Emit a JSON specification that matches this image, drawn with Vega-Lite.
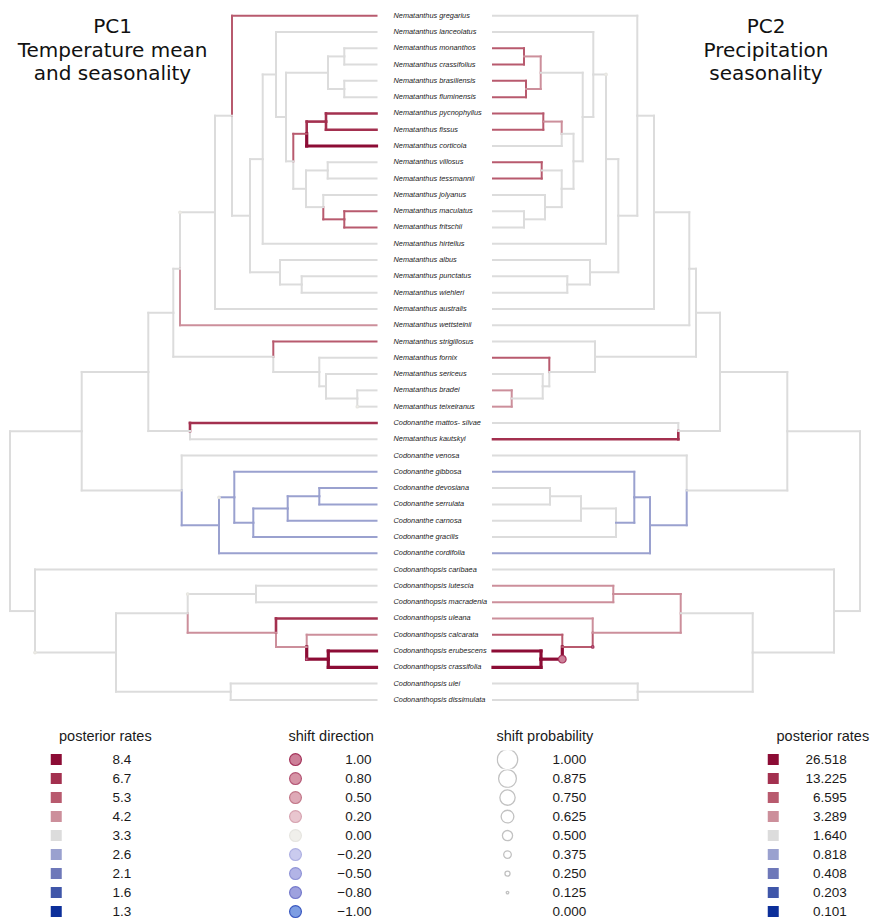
{
  "$schema": "https://vega.github.io/schema/vega-lite/v6.json",
  "width": 871,
  "height": 920,
  "padding": 0,
  "autosize": {"type": "none"},
  "background": "white",
  "config": {
    "view": {"stroke": null},
    "legend": {
      "orient": "none",
      "padding": 0,
      "rowPadding": 0,
      "clipHeight": 18.2,
      "titlePadding": 6,
      "titleFont": "Liberation Sans",
      "titleFontSize": 14.5,
      "titleFontWeight": "normal",
      "titleColor": "#1a1a1a",
      "labelFont": "Liberation Sans",
      "labelFontSize": 13.5,
      "labelColor": "#1a1a1a"
    }
  },
  "datasets": {
    "branches": [
      {"tree":"PC1","px":10,"py":32.026,"cx":81.7,"cy":26.504,"rate":"3.3"},
      {"tree":"PC1","px":10,"py":32.026,"cx":35,"cy":37.547,"rate":"3.3"},
      {"tree":"PC1","px":81.7,"py":26.504,"cx":148.3,"cy":22.868,"rate":"3.3"},
      {"tree":"PC1","px":81.7,"py":26.504,"cx":181.7,"cy":30.14,"rate":"3.3"},
      {"tree":"PC1","px":148.3,"py":22.868,"cx":173.3,"cy":19.236,"rate":"3.3"},
      {"tree":"PC1","px":148.3,"py":22.868,"cx":190,"cy":26.5,"rate":"3.3"},
      {"tree":"PC1","px":173.3,"py":19.236,"cx":180,"cy":16.535,"rate":"3.3"},
      {"tree":"PC1","px":173.3,"py":19.236,"cx":273.3,"cy":21.938,"rate":"3.3"},
      {"tree":"PC1","px":180,"py":16.535,"cx":215,"cy":13.069,"rate":"3.3"},
      {"tree":"PC1","px":215,"py":13.069,"cx":232,"cy":7.139,"rate":"3.3"},
      {"tree":"PC1","px":215,"py":13.069,"cx":376.5,"cy":19,"rate":"3.3"},
      {"tree":"PC1","px":232,"py":7.139,"cx":250,"cy":13.277,"rate":"3.3"},
      {"tree":"PC1","px":250,"py":13.277,"cx":262.7,"cy":9.805,"rate":"3.3"},
      {"tree":"PC1","px":250,"py":13.277,"cx":280,"cy":16.75,"rate":"3.3"},
      {"tree":"PC1","px":262.7,"py":9.805,"cx":276,"cy":4.609,"rate":"3.3"},
      {"tree":"PC1","px":262.7,"py":9.805,"cx":376.5,"cy":15,"rate":"3.3"},
      {"tree":"PC1","px":276,"py":4.609,"cx":376.5,"cy":2,"rate":"3.3"},
      {"tree":"PC1","px":276,"py":4.609,"cx":286,"cy":7.219,"rate":"3.3"},
      {"tree":"PC1","px":286,"py":7.219,"cx":328,"cy":4.5,"rate":"3.3"},
      {"tree":"PC1","px":286,"py":7.219,"cx":293.3,"cy":9.938,"rate":"3.3"},
      {"tree":"PC1","px":328,"py":4.5,"cx":344.3,"cy":3.5,"rate":"3.3"},
      {"tree":"PC1","px":328,"py":4.5,"cx":344.3,"cy":5.5,"rate":"3.3"},
      {"tree":"PC1","px":344.3,"py":3.5,"cx":376.5,"cy":3,"rate":"3.3"},
      {"tree":"PC1","px":344.3,"py":3.5,"cx":376.5,"cy":4,"rate":"3.3"},
      {"tree":"PC1","px":344.3,"py":5.5,"cx":376.5,"cy":5,"rate":"3.3"},
      {"tree":"PC1","px":344.3,"py":5.5,"cx":376.5,"cy":6,"rate":"3.3"},
      {"tree":"PC1","px":293.3,"py":9.938,"cx":306,"cy":11.625,"rate":"3.3"},
      {"tree":"PC1","px":306,"py":11.625,"cx":327.7,"cy":10.5,"rate":"3.3"},
      {"tree":"PC1","px":306,"py":11.625,"cx":323.3,"cy":12.75,"rate":"3.3"},
      {"tree":"PC1","px":327.7,"py":10.5,"cx":376.5,"cy":10,"rate":"3.3"},
      {"tree":"PC1","px":327.7,"py":10.5,"cx":376.5,"cy":11,"rate":"3.3"},
      {"tree":"PC1","px":323.3,"py":12.75,"cx":376.5,"cy":12,"rate":"3.3"},
      {"tree":"PC1","px":280,"py":16.75,"cx":376.5,"cy":16,"rate":"3.3"},
      {"tree":"PC1","px":280,"py":16.75,"cx":301.7,"cy":17.5,"rate":"3.3"},
      {"tree":"PC1","px":301.7,"py":17.5,"cx":376.5,"cy":17,"rate":"3.3"},
      {"tree":"PC1","px":301.7,"py":17.5,"cx":376.5,"cy":18,"rate":"3.3"},
      {"tree":"PC1","px":273.3,"py":21.938,"cx":319.3,"cy":22.875,"rate":"3.3"},
      {"tree":"PC1","px":319.3,"py":22.875,"cx":376.5,"cy":22,"rate":"3.3"},
      {"tree":"PC1","px":319.3,"py":22.875,"cx":326,"cy":23.75,"rate":"3.3"},
      {"tree":"PC1","px":326,"py":23.75,"cx":376.5,"cy":23,"rate":"3.3"},
      {"tree":"PC1","px":326,"py":23.75,"cx":357.3,"cy":24.5,"rate":"3.3"},
      {"tree":"PC1","px":357.3,"py":24.5,"cx":376.5,"cy":24,"rate":"3.3"},
      {"tree":"PC1","px":357.3,"py":24.5,"cx":376.5,"cy":25,"rate":"3.3"},
      {"tree":"PC1","px":190,"py":26.5,"cx":376.5,"cy":27,"rate":"3.3"},
      {"tree":"PC1","px":181.7,"py":30.14,"cx":376.5,"cy":28,"rate":"3.3"},
      {"tree":"PC1","px":35,"py":37.547,"cx":376.5,"cy":35,"rate":"3.3"},
      {"tree":"PC1","px":35,"py":37.547,"cx":116,"cy":40.094,"rate":"3.3"},
      {"tree":"PC1","px":116,"py":40.094,"cx":187.7,"cy":37.688,"rate":"3.3"},
      {"tree":"PC1","px":116,"py":40.094,"cx":230.7,"cy":42.5,"rate":"3.3"},
      {"tree":"PC1","px":230.7,"py":42.5,"cx":376.5,"cy":42,"rate":"3.3"},
      {"tree":"PC1","px":230.7,"py":42.5,"cx":376.5,"cy":43,"rate":"3.3"},
      {"tree":"PC1","px":187.7,"py":37.688,"cx":256,"cy":36.5,"rate":"3.3"},
      {"tree":"PC1","px":256,"py":36.5,"cx":376.5,"cy":36,"rate":"3.3"},
      {"tree":"PC1","px":256,"py":36.5,"cx":376.5,"cy":37,"rate":"3.3"},
      {"tree":"PC1","px":181.7,"py":30.14,"cx":219,"cy":32.281,"rate":"2.6"},
      {"tree":"PC1","px":219,"py":32.281,"cx":234.3,"cy":30.563,"rate":"2.6"},
      {"tree":"PC1","px":219,"py":32.281,"cx":376.5,"cy":34,"rate":"2.6"},
      {"tree":"PC1","px":234.3,"py":30.563,"cx":376.5,"cy":29,"rate":"2.6"},
      {"tree":"PC1","px":234.3,"py":30.563,"cx":253.3,"cy":32.125,"rate":"2.6"},
      {"tree":"PC1","px":253.3,"py":32.125,"cx":287.7,"cy":31.25,"rate":"2.6"},
      {"tree":"PC1","px":253.3,"py":32.125,"cx":376.5,"cy":33,"rate":"2.6"},
      {"tree":"PC1","px":287.7,"py":31.25,"cx":319.3,"cy":30.5,"rate":"2.6"},
      {"tree":"PC1","px":287.7,"py":31.25,"cx":376.5,"cy":32,"rate":"2.6"},
      {"tree":"PC1","px":319.3,"py":30.5,"cx":376.5,"cy":30,"rate":"2.6"},
      {"tree":"PC1","px":319.3,"py":30.5,"cx":376.5,"cy":31,"rate":"2.6"},
      {"tree":"PC1","px":180,"py":16.535,"cx":376.5,"cy":20,"rate":"4.2"},
      {"tree":"PC1","px":187.7,"py":37.688,"cx":276,"cy":38.875,"rate":"4.2"},
      {"tree":"PC1","px":276,"py":38.875,"cx":306.7,"cy":39.75,"rate":"4.2"},
      {"tree":"PC1","px":306.7,"py":39.75,"cx":376.5,"cy":39,"rate":"4.2"},
      {"tree":"PC1","px":232,"py":7.139,"cx":376.5,"cy":1,"rate":"5.3"},
      {"tree":"PC1","px":293.3,"py":9.938,"cx":306.7,"cy":8.25,"rate":"5.3"},
      {"tree":"PC1","px":323.3,"py":12.75,"cx":344.3,"cy":13.5,"rate":"5.3"},
      {"tree":"PC1","px":344.3,"py":13.5,"cx":376.5,"cy":13,"rate":"5.3"},
      {"tree":"PC1","px":344.3,"py":13.5,"cx":376.5,"cy":14,"rate":"5.3"},
      {"tree":"PC1","px":273.3,"py":21.938,"cx":376.5,"cy":21,"rate":"5.3"},
      {"tree":"PC1","px":190,"py":26.5,"cx":376.5,"cy":26,"rate":"6.7"},
      {"tree":"PC1","px":276,"py":38.875,"cx":376.5,"cy":38,"rate":"6.7"},
      {"tree":"PC1","px":306.7,"py":8.25,"cx":326,"cy":7.5,"rate":"6.7"},
      {"tree":"PC1","px":326,"py":7.5,"cx":376.5,"cy":7,"rate":"6.7"},
      {"tree":"PC1","px":326,"py":7.5,"cx":376.5,"cy":8,"rate":"6.7"},
      {"tree":"PC1","px":306.7,"py":8.25,"cx":376.5,"cy":9,"rate":"8.4"},
      {"tree":"PC1","px":306.7,"py":39.75,"cx":328.3,"cy":40.5,"rate":"8.4"},
      {"tree":"PC1","px":328.3,"py":40.5,"cx":376.5,"cy":40,"rate":"8.4"},
      {"tree":"PC1","px":328.3,"py":40.5,"cx":376.5,"cy":41,"rate":"8.4"},

      {"tree":"PC2","px":860,"py":32.026,"cx":787.3,"cy":26.504,"rate":"1.640"},
      {"tree":"PC2","px":860,"py":32.026,"cx":834,"cy":37.547,"rate":"1.640"},
      {"tree":"PC2","px":787.3,"py":26.504,"cx":720,"cy":22.868,"rate":"1.640"},
      {"tree":"PC2","px":787.3,"py":26.504,"cx":686.7,"cy":30.14,"rate":"1.640"},
      {"tree":"PC2","px":720,"py":22.868,"cx":696,"cy":19.236,"rate":"1.640"},
      {"tree":"PC2","px":720,"py":22.868,"cx":678.3,"cy":26.5,"rate":"1.640"},
      {"tree":"PC2","px":696,"py":19.236,"cx":689.3,"cy":16.535,"rate":"1.640"},
      {"tree":"PC2","px":696,"py":19.236,"cx":595,"cy":21.938,"rate":"1.640"},
      {"tree":"PC2","px":689.3,"py":16.535,"cx":654,"cy":13.069,"rate":"1.640"},
      {"tree":"PC2","px":689.3,"py":16.535,"cx":493,"cy":20,"rate":"1.640"},
      {"tree":"PC2","px":654,"py":13.069,"cx":637.3,"cy":7.139,"rate":"1.640"},
      {"tree":"PC2","px":654,"py":13.069,"cx":493,"cy":19,"rate":"1.640"},
      {"tree":"PC2","px":637.3,"py":7.139,"cx":493,"cy":1,"rate":"1.640"},
      {"tree":"PC2","px":637.3,"py":7.139,"cx":618.3,"cy":13.277,"rate":"1.640"},
      {"tree":"PC2","px":618.3,"py":13.277,"cx":606,"cy":9.805,"rate":"1.640"},
      {"tree":"PC2","px":618.3,"py":13.277,"cx":590,"cy":16.75,"rate":"1.640"},
      {"tree":"PC2","px":606,"py":9.805,"cx":593.3,"cy":4.609,"rate":"1.640"},
      {"tree":"PC2","px":606,"py":9.805,"cx":493,"cy":15,"rate":"1.640"},
      {"tree":"PC2","px":593.3,"py":4.609,"cx":493,"cy":2,"rate":"1.640"},
      {"tree":"PC2","px":593.3,"py":4.609,"cx":582.7,"cy":7.219,"rate":"1.640"},
      {"tree":"PC2","px":582.7,"py":7.219,"cx":540.7,"cy":4.5,"rate":"1.640"},
      {"tree":"PC2","px":582.7,"py":7.219,"cx":573.5,"cy":9.938,"rate":"1.640"},
      {"tree":"PC2","px":573.5,"py":9.938,"cx":561.7,"cy":8.25,"rate":"1.640"},
      {"tree":"PC2","px":573.5,"py":9.938,"cx":561.7,"cy":11.625,"rate":"1.640"},
      {"tree":"PC2","px":561.7,"py":8.25,"cx":493,"cy":9,"rate":"1.640"},
      {"tree":"PC2","px":561.7,"py":11.625,"cx":541.7,"cy":10.5,"rate":"1.640"},
      {"tree":"PC2","px":561.7,"py":11.625,"cx":545,"cy":12.75,"rate":"1.640"},
      {"tree":"PC2","px":545,"py":12.75,"cx":493,"cy":12,"rate":"1.640"},
      {"tree":"PC2","px":545,"py":12.75,"cx":524,"cy":13.5,"rate":"1.640"},
      {"tree":"PC2","px":524,"py":13.5,"cx":493,"cy":13,"rate":"1.640"},
      {"tree":"PC2","px":524,"py":13.5,"cx":493,"cy":14,"rate":"1.640"},
      {"tree":"PC2","px":590,"py":16.75,"cx":493,"cy":16,"rate":"1.640"},
      {"tree":"PC2","px":590,"py":16.75,"cx":567.3,"cy":17.5,"rate":"1.640"},
      {"tree":"PC2","px":567.3,"py":17.5,"cx":493,"cy":17,"rate":"1.640"},
      {"tree":"PC2","px":567.3,"py":17.5,"cx":493,"cy":18,"rate":"1.640"},
      {"tree":"PC2","px":595,"py":21.938,"cx":493,"cy":21,"rate":"1.640"},
      {"tree":"PC2","px":595,"py":21.938,"cx":549.3,"cy":22.875,"rate":"1.640"},
      {"tree":"PC2","px":549.3,"py":22.875,"cx":542.7,"cy":23.75,"rate":"1.640"},
      {"tree":"PC2","px":542.7,"py":23.75,"cx":493,"cy":23,"rate":"1.640"},
      {"tree":"PC2","px":542.7,"py":23.75,"cx":511.7,"cy":24.5,"rate":"1.640"},
      {"tree":"PC2","px":678.3,"py":26.5,"cx":493,"cy":26,"rate":"1.640"},
      {"tree":"PC2","px":686.7,"py":30.14,"cx":493,"cy":28,"rate":"1.640"},
      {"tree":"PC2","px":616,"py":32.125,"cx":581,"cy":31.25,"rate":"1.640"},
      {"tree":"PC2","px":616,"py":32.125,"cx":493,"cy":33,"rate":"1.640"},
      {"tree":"PC2","px":581,"py":31.25,"cx":550,"cy":30.5,"rate":"1.640"},
      {"tree":"PC2","px":581,"py":31.25,"cx":493,"cy":32,"rate":"1.640"},
      {"tree":"PC2","px":550,"py":30.5,"cx":493,"cy":30,"rate":"1.640"},
      {"tree":"PC2","px":550,"py":30.5,"cx":493,"cy":31,"rate":"1.640"},
      {"tree":"PC2","px":834,"py":37.547,"cx":493,"cy":35,"rate":"1.640"},
      {"tree":"PC2","px":834,"py":37.547,"cx":752.7,"cy":40.094,"rate":"1.640"},
      {"tree":"PC2","px":752.7,"py":40.094,"cx":680.7,"cy":37.688,"rate":"1.640"},
      {"tree":"PC2","px":752.7,"py":40.094,"cx":637.7,"cy":42.5,"rate":"1.640"},
      {"tree":"PC2","px":637.7,"py":42.5,"cx":493,"cy":42,"rate":"1.640"},
      {"tree":"PC2","px":637.7,"py":42.5,"cx":493,"cy":43,"rate":"1.640"},
      {"tree":"PC2","px":686.7,"py":30.14,"cx":650,"cy":32.281,"rate":"0.818"},
      {"tree":"PC2","px":650,"py":32.281,"cx":634.3,"cy":30.563,"rate":"0.818"},
      {"tree":"PC2","px":650,"py":32.281,"cx":493,"cy":34,"rate":"0.818"},
      {"tree":"PC2","px":634.3,"py":30.563,"cx":493,"cy":29,"rate":"0.818"},
      {"tree":"PC2","px":634.3,"py":30.563,"cx":616,"cy":32.125,"rate":"0.818"},
      {"tree":"PC2","px":540.7,"py":4.5,"cx":524,"cy":3.5,"rate":"3.289"},
      {"tree":"PC2","px":540.7,"py":4.5,"cx":526,"cy":5.5,"rate":"3.289"},
      {"tree":"PC2","px":561.7,"py":8.25,"cx":543.3,"cy":7.5,"rate":"3.289"},
      {"tree":"PC2","px":511.7,"py":24.5,"cx":493,"cy":24,"rate":"3.289"},
      {"tree":"PC2","px":511.7,"py":24.5,"cx":493,"cy":25,"rate":"3.289"},
      {"tree":"PC2","px":680.7,"py":37.688,"cx":613.3,"cy":36.5,"rate":"3.289"},
      {"tree":"PC2","px":680.7,"py":37.688,"cx":592.7,"cy":38.875,"rate":"3.289"},
      {"tree":"PC2","px":613.3,"py":36.5,"cx":493,"cy":36,"rate":"3.289"},
      {"tree":"PC2","px":613.3,"py":36.5,"cx":493,"cy":37,"rate":"3.289"},
      {"tree":"PC2","px":592.7,"py":38.875,"cx":493,"cy":38,"rate":"3.289"},
      {"tree":"PC2","px":524,"py":3.5,"cx":493,"cy":3,"rate":"6.595"},
      {"tree":"PC2","px":524,"py":3.5,"cx":493,"cy":4,"rate":"6.595"},
      {"tree":"PC2","px":526,"py":5.5,"cx":493,"cy":5,"rate":"6.595"},
      {"tree":"PC2","px":526,"py":5.5,"cx":493,"cy":6,"rate":"6.595"},
      {"tree":"PC2","px":543.3,"py":7.5,"cx":493,"cy":7,"rate":"6.595"},
      {"tree":"PC2","px":543.3,"py":7.5,"cx":493,"cy":8,"rate":"6.595"},
      {"tree":"PC2","px":541.7,"py":10.5,"cx":493,"cy":10,"rate":"6.595"},
      {"tree":"PC2","px":541.7,"py":10.5,"cx":493,"cy":11,"rate":"6.595"},
      {"tree":"PC2","px":549.3,"py":22.875,"cx":493,"cy":22,"rate":"6.595"},
      {"tree":"PC2","px":592.7,"py":38.875,"cx":562.3,"cy":39.75,"rate":"6.595"},
      {"tree":"PC2","px":562.3,"py":39.75,"cx":493,"cy":39,"rate":"6.595"},
      {"tree":"PC2","px":678.3,"py":26.5,"cx":493,"cy":27,"rate":"13.225"},
      {"tree":"PC2","px":562.3,"py":39.75,"cx":541,"cy":40.5,"rate":"26.518"},
      {"tree":"PC2","px":541,"py":40.5,"cx":493,"cy":40,"rate":"26.518"},
      {"tree":"PC2","px":541,"py":40.5,"cx":493,"cy":41,"rate":"26.518"}
    ],
    "tips": [
      {"tip":1,"name":"Nematanthus gregarius"},
      {"tip":2,"name":"Nematanthus lanceolatus"},
      {"tip":3,"name":"Nematanthus monanthos"},
      {"tip":4,"name":"Nematanthus crassifolius"},
      {"tip":5,"name":"Nematanthus brasiliensis"},
      {"tip":6,"name":"Nematanthus fluminensis"},
      {"tip":7,"name":"Nematanthus pycnophyllus"},
      {"tip":8,"name":"Nematanthus fissus"},
      {"tip":9,"name":"Nematanthus corticola"},
      {"tip":10,"name":"Nematanthus villosus"},
      {"tip":11,"name":"Nematanthus tessmannii"},
      {"tip":12,"name":"Nematanthus jolyanus"},
      {"tip":13,"name":"Nematanthus maculatus"},
      {"tip":14,"name":"Nematanthus fritschii"},
      {"tip":15,"name":"Nematanthus hirtellus"},
      {"tip":16,"name":"Nematanthus albus"},
      {"tip":17,"name":"Nematanthus punctatus"},
      {"tip":18,"name":"Nematanthus wiehleri"},
      {"tip":19,"name":"Nematanthus australis"},
      {"tip":20,"name":"Nematanthus wettsteinii"},
      {"tip":21,"name":"Nematanthus strigillosus"},
      {"tip":22,"name":"Nematanthus fornix"},
      {"tip":23,"name":"Nematanthus sericeus"},
      {"tip":24,"name":"Nematanthus bradei"},
      {"tip":25,"name":"Nematanthus teixeiranus"},
      {"tip":26,"name":"Codonanthe mattos- silvae"},
      {"tip":27,"name":"Nematanthus kautskyi"},
      {"tip":28,"name":"Codonanthe venosa"},
      {"tip":29,"name":"Codonanthe gibbosa"},
      {"tip":30,"name":"Codonanthe devosiana"},
      {"tip":31,"name":"Codonanthe serrulata"},
      {"tip":32,"name":"Codonanthe carnosa"},
      {"tip":33,"name":"Codonanthe gracilis"},
      {"tip":34,"name":"Codonanthe cordifolia"},
      {"tip":35,"name":"Codonanthopsis caribaea"},
      {"tip":36,"name":"Codonanthopsis lutescia"},
      {"tip":37,"name":"Codonanthopsis macradenia"},
      {"tip":38,"name":"Codonanthopsis uleana"},
      {"tip":39,"name":"Codonanthopsis calcarata"},
      {"tip":40,"name":"Codonanthopsis erubescens"},
      {"tip":41,"name":"Codonanthopsis crassifolia"},
      {"tip":42,"name":"Codonanthopsis ulei"},
      {"tip":43,"name":"Codonanthopsis dissimulata"}
    ],
    "shifts": [
      {"tree":"PC1","x":180,"y":13.069,"direction":"0.00","prob":0.125},
      {"tree":"PC1","x":357.3,"y":25,"direction":"0.00","prob":0.125},
      {"tree":"PC1","x":219,"y":30.563,"direction":"0.00","prob":0.125},
      {"tree":"PC1","x":187.7,"y":36.5,"direction":"0.00","prob":0.125},
      {"tree":"PC1","x":35,"y":40.094,"direction":"0.00","prob":0.125},
      {"tree":"PC1","x":306.7,"y":40.5,"direction":"1.00","prob":0.125},
      {"tree":"PC2","x":606,"y":4.609,"direction":"0.00","prob":0.125},
      {"tree":"PC2","x":592.7,"y":39.75,"direction":"1.00","prob":0.125},
      {"tree":"PC2","x":562.3,"y":40.5,"direction":"1.00","prob":0.375}
    ],
    "panels": [
      {"panel": "PC1", "title": "PC1\nTemperature mean\nand seasonality"},
      {"panel": "PC2", "title": "PC2\nPrecipitation\nseasonality"}
    ]
  },
  "layer": [
    {
      "data": {"name": "branches"},
      "transform": [{"filter": "datum.tree === 'PC1'"}],
      "encoding": {
        "color": {
          "field": "rate", "type": "ordinal",
          "scale": {"domain": ["8.4","6.7","5.3","4.2","3.3","2.6","2.1","1.6","1.3"],
                    "range": ["#8c0c35","#a3304f","#b85a6e","#cc8f9b","#dcdcdc","#9aa1cf","#6e78b9","#3f56a9","#0c2f9a"]},
          "legend": {"title": "posterior rates", "legendX": 49.5, "legendY": 730, "symbolType": "square", "symbolSize": 25, "symbolStrokeWidth": 6, "labelOffset": 49.5, "labelAlign": "left",
                     "encode": {"title": {"update": {"dx": {"value": 9.5}}}}}
        },
        "strokeWidth": {
          "field": "rate", "type": "nominal",
          "scale": {"type": "ordinal",
                    "domain": ["8.4","6.7","5.3","4.2","3.3","2.6","2.1","1.6","1.3","26.518","13.225","6.595","3.289","1.640","0.818","0.408","0.203","0.101"],
                    "range": [3.2,2.6,2,2,2,2,2,2,2,3.2,2.6,2,2,2,2,2,2,2]},
          "legend": null
        }
      },
      "layer": [
        {
          "mark": {"type": "rule", "strokeCap": "square"},
          "encoding": {
            "x": {"field": "px", "type": "quantitative", "scale": {"domain": [0, 871], "nice": false, "zero": false}, "axis": null},
            "y": {"field": "py", "type": "quantitative", "scale": {"domain": [0.0362, 56.512], "reverse": true, "nice": false, "zero": false}, "axis": null},
            "y2": {"field": "cy"}
          }
        },
        {
          "mark": {"type": "rule", "strokeCap": "square"},
          "encoding": {
            "x": {"field": "px", "type": "quantitative", "scale": {"domain": [0, 871], "nice": false, "zero": false}, "axis": null},
            "x2": {"field": "cx"},
            "y": {"field": "cy", "type": "quantitative", "scale": {"domain": [0.0362, 56.512], "reverse": true, "nice": false, "zero": false}, "axis": null}
          }
        }
      ]
    },
    {
      "data": {"name": "branches"},
      "transform": [{"filter": "datum.tree === 'PC2'"}],
      "encoding": {
        "color": {
          "field": "rate", "type": "ordinal",
          "scale": {"domain": ["26.518","13.225","6.595","3.289","1.640","0.818","0.408","0.203","0.101"],
                    "range": ["#8c0c35","#a3304f","#b85a6e","#cc8f9b","#dcdcdc","#9aa1cf","#6e78b9","#3f56a9","#0c2f9a"]},
          "legend": {"title": "posterior rates", "legendX": 766.5, "legendY": 730, "symbolType": "square", "symbolSize": 25, "symbolStrokeWidth": 6, "labelOffset": 66.7, "labelAlign": "right",
                     "encode": {"title": {"update": {"dx": {"value": 10}}}}}
        },
        "strokeWidth": {
          "field": "rate", "type": "nominal",
          "scale": {"type": "ordinal",
                    "domain": ["8.4","6.7","5.3","4.2","3.3","2.6","2.1","1.6","1.3","26.518","13.225","6.595","3.289","1.640","0.818","0.408","0.203","0.101"],
                    "range": [3.2,2.6,2,2,2,2,2,2,2,3.2,2.6,2,2,2,2,2,2,2]},
          "legend": null
        }
      },
      "layer": [
        {
          "mark": {"type": "rule", "strokeCap": "square"},
          "encoding": {
            "x": {"field": "px", "type": "quantitative", "scale": {"domain": [0, 871], "nice": false, "zero": false}, "axis": null},
            "y": {"field": "py", "type": "quantitative", "scale": {"domain": [0.0362, 56.512], "reverse": true, "nice": false, "zero": false}, "axis": null},
            "y2": {"field": "cy"}
          }
        },
        {
          "mark": {"type": "rule", "strokeCap": "square"},
          "encoding": {
            "x": {"field": "px", "type": "quantitative", "scale": {"domain": [0, 871], "nice": false, "zero": false}, "axis": null},
            "x2": {"field": "cx"},
            "y": {"field": "cy", "type": "quantitative", "scale": {"domain": [0.0362, 56.512], "reverse": true, "nice": false, "zero": false}, "axis": null}
          }
        }
      ]
    },
    {
      "data": {"name": "shifts"},
      "mark": {"type": "point", "shape": "circle", "filled": true, "opacity": 1, "strokeWidth": 1.2},
      "encoding": {
        "x": {"field": "x", "type": "quantitative", "scale": {"domain": [0, 871], "nice": false, "zero": false}, "axis": null},
        "y": {"field": "y", "type": "quantitative", "scale": {"domain": [0.0362, 56.512], "reverse": true, "nice": false, "zero": false}, "axis": null},
        "fill": {
          "field": "direction", "type": "ordinal",
          "scale": {"domain": ["1.00","0.80","0.50","0.20","0.00","−0.20","−0.50","−0.80","−1.00"],
                    "range": ["#cd8099","#d694a6","#dea9b7","#e9c6cf","#f0efeb","#cacbee","#b2b4e6","#9ea1de","#7d9de2"]},
          "legend": {"title": "shift direction", "legendX": 288.5, "legendY": 730, "symbolType": "circle", "symbolSize": 140, "symbolStrokeWidth": 1.2, "labelAlign": "right", "labelOffset": 69,
                     "encode": {"title": {"update": {"dx": {"value": 13.5}}}}}
        },
        "stroke": {
          "field": "direction", "type": "ordinal",
          "scale": {"domain": ["1.00","0.80","0.50","0.20","0.00","−0.20","−0.50","−0.80","−1.00"],
                    "range": ["#a5355c","#b45675","#c27889","#d7a4b1","#e6e5e0","#aeb0e2","#9094d7","#7479cb","#3a58c0"]},
          "legend": {"title": "shift direction", "legendX": 288.5, "legendY": 730, "symbolType": "circle", "symbolSize": 140, "symbolStrokeWidth": 1.2, "labelAlign": "right", "labelOffset": 69,
                     "encode": {"title": {"update": {"dx": {"value": 13.5}}}}}
        },
        "size": {
          "field": "prob", "type": "quantitative",
          "scale": {"type": "pow", "exponent": 2, "domain": [0, 1], "range": [0, 415], "zero": true},
          "legend": {"title": "shift probability", "legendX": 496.5, "legendY": 730, "values": [1, 0.875, 0.75, 0.625, 0.5, 0.375, 0.25, 0.125, 0], "format": ".3f", "symbolType": "circle", "symbolFillColor": "transparent", "symbolStrokeColor": "#c2c2c2", "symbolStrokeWidth": 1.3, "labelAlign": "left", "labelOffset": 34,
                     "encode": {"title": {"update": {"dx": {"value": 12}}}}}
        }
      }
    },
    {
      "data": {"name": "tips"},
      "mark": {"type": "text", "align": "left", "baseline": "middle", "font": "Liberation Sans", "fontStyle": "italic", "fontSize": 7.35, "color": "#222222"},
      "encoding": {
        "x": {"datum": 393.5, "type": "quantitative", "scale": {"domain": [0, 871], "nice": false, "zero": false}, "axis": null},
        "y": {"field": "tip", "type": "quantitative", "scale": {"domain": [0.0362, 56.512], "reverse": true, "nice": false, "zero": false}, "axis": null},
        "text": {"field": "name", "type": "nominal"}
      }
    },
    {
      "data": {"name": "panels"},
      "transform": [{"filter": "datum.panel === 'PC1'"}],
      "mark": {"type": "text", "align": "center", "baseline": "alphabetic", "font": "DejaVu Sans", "fontSize": 20, "lineHeight": 23.5, "lineBreak": "\n", "color": "#111111"},
      "encoding": {
        "x": {"datum": 112.5, "type": "quantitative", "scale": {"domain": [0, 871], "nice": false, "zero": false}, "axis": null},
        "y": {"datum": 2.09, "type": "quantitative", "scale": {"domain": [0.0362, 56.512], "reverse": true, "nice": false, "zero": false}, "axis": null},
        "text": {"field": "title", "type": "nominal"}
      }
    },
    {
      "data": {"name": "panels"},
      "transform": [{"filter": "datum.panel === 'PC2'"}],
      "mark": {"type": "text", "align": "center", "baseline": "alphabetic", "font": "DejaVu Sans", "fontSize": 20, "lineHeight": 23.5, "lineBreak": "\n", "color": "#111111"},
      "encoding": {
        "x": {"datum": 766, "type": "quantitative", "scale": {"domain": [0, 871], "nice": false, "zero": false}, "axis": null},
        "y": {"datum": 2.09, "type": "quantitative", "scale": {"domain": [0.0362, 56.512], "reverse": true, "nice": false, "zero": false}, "axis": null},
        "text": {"field": "title", "type": "nominal"}
      }
    }
  ],
  "resolve": {"scale": {"color": "independent"}}
}
